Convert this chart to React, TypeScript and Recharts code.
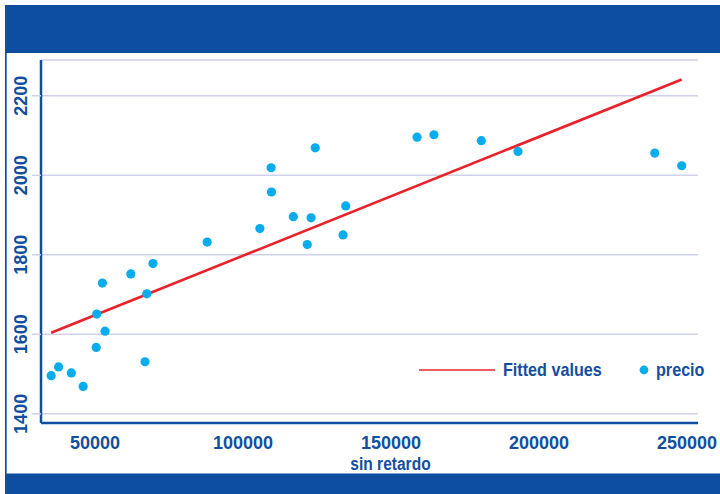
import { ScatterChart, Scatter, XAxis, YAxis, CartesianGrid, Legend, Label } from 'recharts'

// sin retardo (x) and precio (y) for each observation
const sinRetardo = [
  35200, 37700, 42000, 46000, 50400, 53400, 50600, 52500, 66900, 67500, 62100, 69600, 87900, 105700,
  109500, 109600, 117000, 123000, 121700, 134700, 133800, 124400, 158800, 164500, 180500, 192900, 239100, 248200,
]
const precio = [
  1496, 1518, 1503, 1469, 1567, 1608, 1651, 1729, 1531, 1702, 1752, 1778, 1832, 1866,
  2019, 1958, 1896, 1893, 1826, 1923, 1850, 2069, 2096, 2102, 2087, 2060, 2056, 2024,
]

// fitted line end points
const fittedX = [35200, 248200]
const fittedY = [1604, 2241]

const xTicks = [50000, 100000, 150000, 200000, 250000]
const yTicks = [1400, 1600, 1800, 2000, 2200]

const BLUE = '#0d4ea1'
const TEXT_BLUE = '#134f9e'
const CYAN = '#06acec'
const RED = '#e8212b'
const GRID = '#cfd2ea'
const FONT = "'Liberation Sans', Arial, sans-serif"

const points = sinRetardo.map((x, i) => ({ x, y: precio[i] }))
const fitted = fittedX.map((x, i) => ({ x, y: fittedY[i] }))

const XTick = ({ x, y, payload }: any) => (
  <text x={x} y={y + 26} textAnchor="middle" fill={TEXT_BLUE} fontFamily={FONT} fontWeight="bold" fontSize={18}>
    {payload.value}
  </text>
)

const YTick = ({ x, y, payload }: any) => {
  const tx = x - 3
  return (
    <text
      x={tx}
      y={y}
      transform={`rotate(-90 ${tx} ${y})`}
      textAnchor="middle"
      fill={TEXT_BLUE}
      fontFamily={FONT}
      fontWeight="bold"
      fontSize={18}
    >
      {payload.value}
    </text>
  )
}

const Dot = ({ cx, cy }: any) => <circle cx={cx} cy={cy} r={4.6} fill={CYAN} />

// condensed bold label text
const Narrow = ({ children, width }: { children: string; width: number }) => (
  <span style={{ display: 'inline-block', width, whiteSpace: 'nowrap' }}>
    <span style={{ display: 'inline-block', transform: 'scaleX(0.85)', transformOrigin: 'left center' }}>{children}</span>
  </span>
)

const LegendBox = () => (
  <div
    style={{
      display: 'flex',
      alignItems: 'center',
      fontFamily: FONT,
      fontWeight: 'bold',
      fontSize: 19,
      lineHeight: '22px',
      color: TEXT_BLUE,
    }}
  >
    <svg width={76} height={4}>
      <line x1={0} y1={2} x2={76} y2={2} stroke={RED} strokeWidth={1.6} />
    </svg>
    <span style={{ marginLeft: 8 }}>
      <Narrow width={136}>Fitted values</Narrow>
    </span>
    <svg width={10} height={10}>
      <circle cx={5} cy={5} r={4.4} fill={CYAN} />
    </svg>
    <span style={{ marginLeft: 7 }}>
      <Narrow width={60}>precio</Narrow>
    </span>
  </div>
)

export default function App() {
  return (
    <div style={{ position: 'absolute', left: 0, top: 0, width: 720, height: 494, background: '#fff', overflow: 'hidden' }}>
      {/* frame: blue bands top and bottom, white panel in between */}
      <div style={{ position: 'absolute', left: 5, top: 5, right: 0, bottom: 0, background: BLUE }} />
      <div
        style={{
          position: 'absolute',
          left: 6,
          top: 53,
          width: 714,
          height: 420,
          background: '#fff',
          borderLeft: '1px solid #5d88c6',
          borderBottom: '1px solid #7ea0d2',
        }}
      />
      <div style={{ position: 'absolute', left: 0, top: 0 }}>
        <ScatterChart width={720} height={494} margin={{ top: 60, right: 22, bottom: 20, left: 5 }}>
          <CartesianGrid vertical={false} stroke={GRID} strokeWidth={1.5} />
          <XAxis
            type="number"
            dataKey="x"
            domain={[31760, 253700]}
            ticks={xTicks}
            height={51}
            tickSize={0}
            tickMargin={0}
            tickLine={false}
            axisLine={{ stroke: BLUE, strokeWidth: 2.5 }}
            tick={<XTick />}
          >
            <Label
              content={({ viewBox }: any) => {
                const cx = viewBox.x + viewBox.width / 2 + 21
                return (
                  <text
                    transform={`translate(${cx} 470) scale(0.84 1)`}
                    textAnchor="middle"
                    fill={TEXT_BLUE}
                    fontFamily={FONT}
                    fontWeight="bold"
                    fontSize={18.5}
                  >
                    sin retardo
                  </text>
                )
              }}
            />
          </XAxis>
          <YAxis
            type="number"
            dataKey="y"
            domain={[1377, 2290]}
            ticks={yTicks}
            width={36}
            tickSize={9}
            tickMargin={2}
            tickLine={{ stroke: GRID, strokeWidth: 1.5 }}
            axisLine={{ stroke: BLUE, strokeWidth: 2.5 }}
            tick={<YTick />}
          />
          <Legend
            verticalAlign="middle"
            layout="horizontal"
            content={<LegendBox />}
            wrapperStyle={{ left: 419, top: 359, width: 300 }}
          />
          <Scatter
            name="Fitted values"
            data={fitted}
            line={{ stroke: RED, strokeWidth: 2.6 }}
            shape={() => <g />}
            isAnimationActive={false}
          />
          <Scatter name="precio" data={points} shape={<Dot />} isAnimationActive={false} />
        </ScatterChart>
      </div>
    </div>
  )
}
